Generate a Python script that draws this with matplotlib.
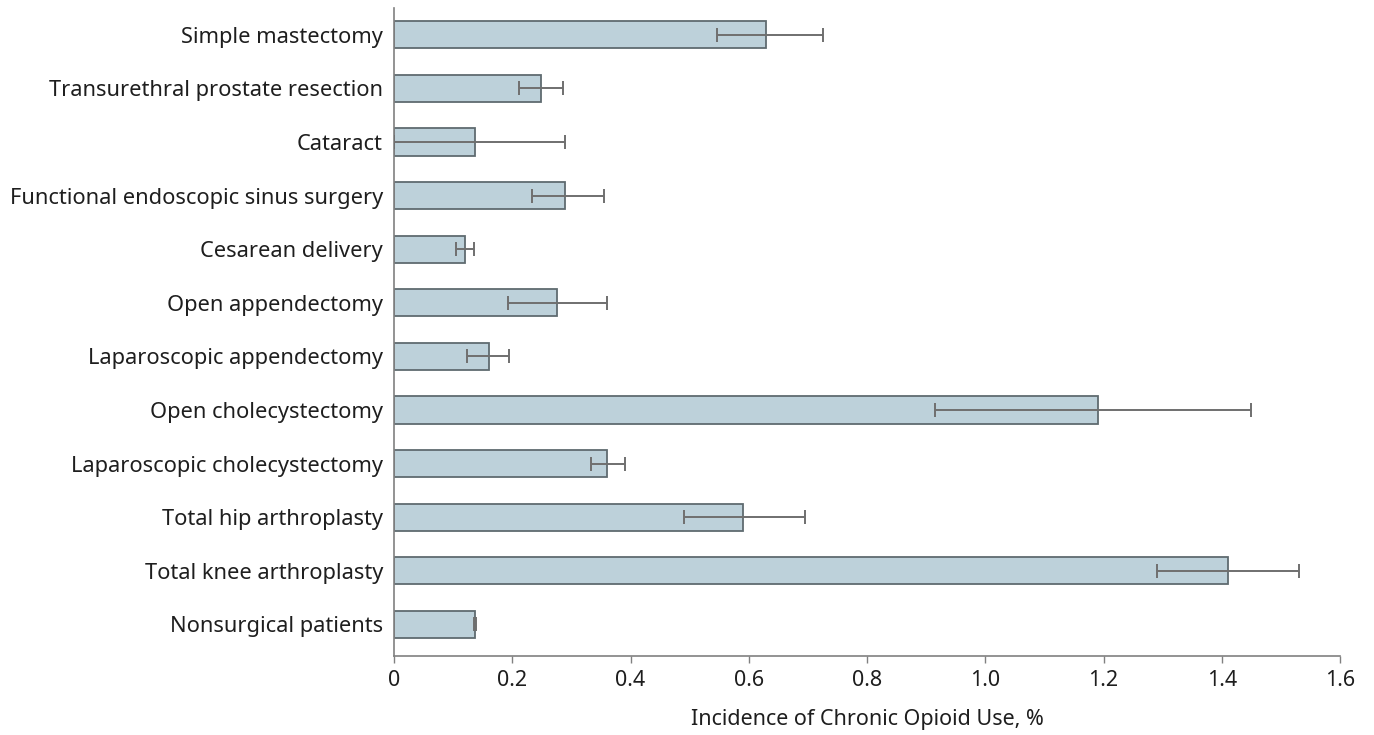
import matplotlib.pyplot as plt
import numpy as np

# procedures, bottom to top as drawn on the y axis
procedures = [
    "Nonsurgical patients",
    "Total knee arthroplasty",
    "Total hip arthroplasty",
    "Laparoscopic cholecystectomy",
    "Open cholecystectomy",
    "Laparoscopic appendectomy",
    "Open appendectomy",
    "Cesarean delivery",
    "Functional endoscopic sinus surgery",
    "Cataract",
    "Transurethral prostate resection",
    "Simple mastectomy",
]
incidence = [0.137, 1.41, 0.59, 0.36, 1.19, 0.16, 0.275, 0.12, 0.29, 0.137, 0.248, 0.63]
ci_low = [0.135, 1.29, 0.49, 0.333, 0.915, 0.124, 0.192, 0.105, 0.234, 0.0, 0.212, 0.547]
ci_high = [0.139, 1.53, 0.695, 0.39, 1.45, 0.195, 0.36, 0.136, 0.355, 0.29, 0.286, 0.725]

xticks = [0, 0.2, 0.4, 0.6, 0.8, 1.0, 1.2, 1.4, 1.6]
xtick_labels = ["0", "0.2", "0.4", "0.6", "0.8", "1.0", "1.2", "1.4", "1.6"]

plt.rcParams['font.family'] = ['Noto Sans', 'DejaVu Sans']

fig = plt.figure(figsize=(13.74, 7.35), dpi=100)
ax = fig.add_axes([394 / 1374, 1 - 656 / 735, (1340 - 394) / 1374, (656 - 8) / 735])

y = np.arange(len(procedures))
vals = np.array(incidence)
xerr = np.array([vals - np.array(ci_low), np.array(ci_high) - vals])

ax.barh(y, vals, height=0.51, color='#bdd1da', edgecolor='#5f6b70', linewidth=1.3, zorder=2)
ax.errorbar(vals, y, xerr=xerr, fmt='none', ecolor='#6f6f6f', elinewidth=1.4,
            capsize=5, capthick=1.4, zorder=3)

ax.set_xlim(0, 1.6)
ax.set_ylim(-0.59, 11.5)
ax.set_yticks(y)
ax.set_yticklabels(procedures, fontsize=15.7, color='#1e1e1e')
ax.set_xticks(xticks)
ax.set_xticklabels(xtick_labels, fontsize=15.5, color='#1e1e1e')
ax.tick_params(axis='y', length=0, pad=8)
ax.tick_params(axis='x', length=5, width=1, color='#808080', pad=5)

for side in ['top', 'right']:
    ax.spines[side].set_visible(False)
for side in ['left', 'bottom']:
    ax.spines[side].set_color('#808080')
    ax.spines[side].set_linewidth(1.2)

ax.set_xlabel('Incidence of Chronic Opioid Use, %', fontsize=15.5, color='#1e1e1e', labelpad=13)

fig.savefig('out.png', dpi=100)
